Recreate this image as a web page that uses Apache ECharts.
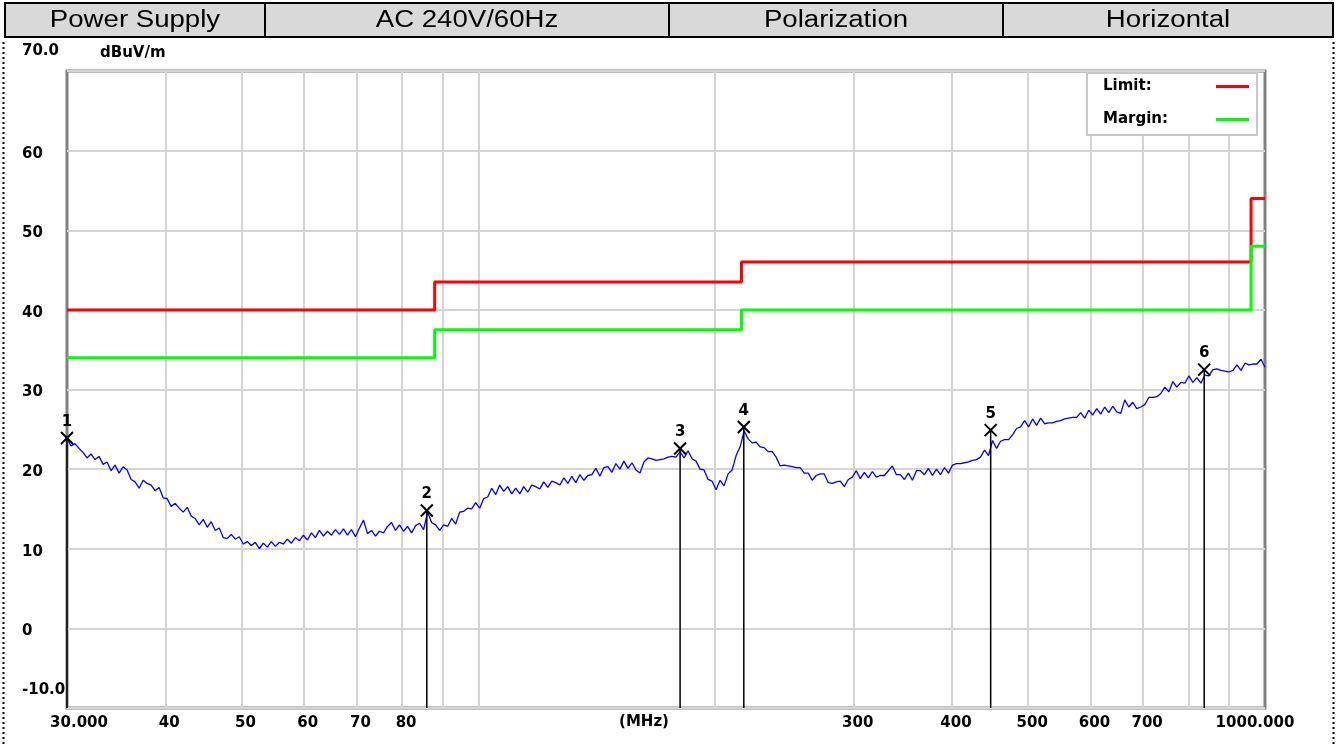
<!DOCTYPE html>
<html>
<head>
<meta charset="utf-8">
<script src="https://cdn.jsdelivr.net/npm/echarts@6/dist/echarts.min.js"></script>
<style>
html,body{margin:0;padding:0;background:#fff;}
#chart{width:1338px;height:745px;}
</style>
</head>
<body>
<div id="chart"></div>
<script>
// ---- header table ----
const headerCells = ['Power Supply', 'AC 240V/60Hz', 'Polarization', 'Horizontal'];

// ---- axes ----
const freqStart = 30;      // MHz
const freqStop = 1000;     // MHz
const yMin = -10, yMax = 70, yStep = 10;
const gridFreqs = [40, 50, 60, 70, 80, 90, 100, 200, 300, 400, 500, 600, 700, 800, 900];
const labelFreqs = [30, 40, 50, 60, 70, 80, 300, 400, 500, 600, 700, 1000];
const labelText = {30: '30.000', 1000: '1000.000'};

// ---- limit / margin (step lines) ----
const limitEdges = [30, 88, 216, 960, 1000];
const limitLevels = [40, 43.5, 46, 54];
const marginLevels = [34, 37.5, 40, 48];

// ---- markers ----
const markerFreqs = [30, 86, 180.5, 217.5, 448, 837];
const markerLevels = [23.9, 14.8, 22.6, 25.3, 24.9, 32.5];

// ---- measured trace (sweep points equally spaced in log frequency) ----
const traceLevels = [
23.9,22.9,23.2,22.6,22.1,21.4,21.9,21.2,21.6,20.6,
20.9,19.8,20.5,19.5,20.3,19.9,18.7,18.4,17.6,18.6,
18.2,18.0,17.3,17.7,16.4,16.3,15.3,15.7,15.1,14.6,
15.2,14.1,13.8,13.0,13.7,12.7,13.4,12.3,12.6,11.4,
11.3,11.8,11.2,11.5,10.6,10.9,10.4,10.8,10.0,10.7,
10.2,10.9,10.3,10.8,10.6,11.2,10.7,11.4,11.0,11.7,
11.1,12.0,11.4,12.3,11.6,12.2,11.7,12.4,11.8,12.5,
11.7,12.4,11.5,12.6,13.6,11.9,12.3,11.6,12.2,12.0,
12.8,13.3,12.3,13.0,12.2,12.8,12.0,12.9,13.2,12.4,
14.6,13.3,13.0,12.3,13.0,12.8,13.8,13.1,14.6,14.7,
15.1,15.0,15.8,15.1,16.3,16.5,17.6,16.8,18.0,17.2,
17.8,16.9,17.6,16.9,17.8,17.1,18.0,17.8,17.5,18.4,
17.7,18.5,18.3,18.0,18.9,18.2,19.1,18.3,19.3,18.6,
19.2,19.3,20.1,19.1,20.2,20.3,19.6,20.7,20.0,21.0,
20.1,20.8,19.9,19.5,20.9,21.4,21.3,21.1,21.2,21.3,
21.5,21.6,21.5,22.2,21.4,22.3,21.3,21.0,20.0,19.9,
18.7,18.5,17.4,18.6,17.9,19.4,19.9,21.7,22.8,24.8,
23.8,23.3,23.4,22.8,22.7,22.2,22.2,21.5,20.4,20.5,
20.4,20.3,20.2,20.2,19.5,19.5,18.6,19.2,19.4,19.4,
18.3,18.2,18.4,18.5,17.8,18.7,19.0,19.8,18.8,19.6,
18.9,19.7,19.0,19.2,19.2,19.8,20.4,19.3,19.3,18.7,
19.5,18.6,19.8,19.8,19.3,20.1,19.2,20.0,19.3,20.2,
19.5,20.5,20.7,20.7,20.8,20.9,21.1,21.2,21.5,22.4,
21.7,23.6,22.6,23.5,23.7,23.7,24.3,25.1,25.3,26.1,
25.3,26.3,25.5,26.4,25.7,25.8,25.8,26.0,26.1,26.3,
26.4,26.5,26.5,27.1,26.4,27.4,26.8,27.6,26.9,27.8,
27.1,27.9,27.2,27.0,28.7,27.8,28.4,27.6,27.8,28.1,
29.0,29.0,29.1,29.5,30.3,29.7,31.0,30.3,30.9,30.8,
31.7,30.9,31.5,30.8,31.8,31.7,32.5,32.6,32.4,32.3,
32.2,32.4,33.1,32.4,33.3,33.1,33.2,33.2,33.8,32.8
];

const L = v => Math.log10(v);
const n = traceLevels.length;
const traceData = traceLevels.map((v, i) => [L(freqStart) + (L(freqStop) - L(freqStart)) * i / (n - 1), v]);

function stepData(edges, levels) {
  const d = [];
  for (let i = 0; i < levels.length; i++) {
    d.push([L(edges[i]), levels[i]]);
    d.push([L(edges[i + 1]), levels[i]]);
  }
  return d;
}

const markerData = markerFreqs.map((f, i) => [L(f), markerLevels[i], i + 1]);

const FONT = 'DejaVu Sans';
const chart = echarts.init(document.getElementById('chart'), null, {renderer: 'canvas'});

// header graphics
const cellEdges = [5, 265, 669, 1003, 1333];
const headerGraphics = [{
  type: 'rect', shape: {x: 5, y: 3, width: 1328, height: 34},
  style: {fill: '#d9d9d9', stroke: '#000', lineWidth: 2}, silent: true
}];
for (let i = 1; i < cellEdges.length - 1; i++) {
  headerGraphics.push({type: 'line', shape: {x1: cellEdges[i], y1: 3, x2: cellEdges[i], y2: 37},
    style: {stroke: '#000', lineWidth: 2}, silent: true});
}
headerCells.forEach((t, i) => {
  headerGraphics.push({
    type: 'text', x: (cellEdges[i] + cellEdges[i + 1]) / 2, y: 21, scaleX: 1.2,
    style: {text: t, fill: '#000', font: '23px "Liberation Sans", Arial', align: 'center', verticalAlign: 'middle'},
    silent: true
  });
});

const lbl = {fontFamily: FONT, fontWeight: 'bold', fontSize: 15, color: '#000'};

const option = {
  animation: false,
  backgroundColor: '#fff',
  grid: {left: 67, right: 73, top: 71, bottom: 37, show: true, backgroundColor: '#fff',
         borderColor: '#808080', borderWidth: 3, containLabel: false, outerBoundsMode: 'none'},
  xAxis: {
    type: 'value', min: L(freqStart), max: L(freqStop),
    name: '(MHz)', nameLocation: 'middle', nameGap: 7, nameMoveOverlap: false,
    nameTextStyle: Object.assign({}, lbl, {padding: [0, 44, 0, 0]}),
    axisLine: {show: false},
    axisTick: {show: false, customValues: gridFreqs.map(L)},
    splitLine: {show: true, lineStyle: {color: '#d4d4d4', width: 2}},
    axisLabel: {
      customValues: labelFreqs.map(L), margin: 8,
      fontFamily: FONT, fontWeight: 'bold', fontSize: 15, color: '#000',
      formatter: v => {
        const f = Math.round(Math.pow(10, v));
        if (f === 30) return '{l|30.000}';
        if (f === 1000) return '{r|1000.000}';
        return '{n|' + (labelText[f] || String(f)) + '}';
      },
      rich: {
        l: Object.assign({}, lbl, {padding: [0, 0, 0, 24]}),
        r: Object.assign({}, lbl, {padding: [0, 20, 0, 0]}),
        n: Object.assign({}, lbl, {padding: [0, 0, 0, 8]})
      }
    }
  },
  yAxis: {
    type: 'value', min: yMin, max: yMax, interval: yStep,
    axisLine: {show: false}, axisTick: {show: false},
    splitLine: {show: true, lineStyle: {color: '#d4d4d4', width: 2}},
    axisLabel: {
      align: 'left', margin: 45,
      fontFamily: FONT, fontWeight: 'bold', fontSize: 15, color: '#000',
      formatter: v => {
        if (v === yMax) return '{t|' + v.toFixed(1) + '}';
        if (v === yMin) return '{b|' + v.toFixed(1) + '}';
        return '{m|' + v + '}';
      },
      rich: {
        t: Object.assign({}, lbl, {padding: [0, 0, 40, 0]}),
        b: Object.assign({}, lbl, {padding: [0, 0, 36, 0]}),
        m: Object.assign({}, lbl, {padding: [6, 0, 0, 0]})
      }
    }
  },
  legend: {
    right: 81, top: 73, orient: 'vertical', align: 'right',
    backgroundColor: '#fff', borderColor: '#c8c8c8', borderWidth: 2,
    padding: [6, 8, 8, 16], itemGap: 18, itemWidth: 33, itemHeight: 3,
    icon: 'rect',
    data: [{name: 'Limit:'}, {name: 'Margin:'}],
    formatter: name => '{a|' + name + '}',
    textStyle: {rich: {a: {fontFamily: FONT, fontWeight: 'bold', fontSize: 15, color: '#000', width: 108, align: 'left'}}},
    selectedMode: false
  },
  graphic: headerGraphics.concat([
    {type: 'line', shape: {x1: 3.5, y1: 42, x2: 3.5, y2: 745}, style: {stroke: '#000', lineWidth: 2, lineDash: [2, 3]}, silent: true},
    {type: 'line', shape: {x1: 1333.5, y1: 42, x2: 1333.5, y2: 745}, style: {stroke: '#000', lineWidth: 2, lineDash: [2, 3]}, silent: true},
    {type: 'text', x: 100, y: 53, style: {text: 'dBuV/m', fill: '#000', font: 'bold 15px "DejaVu Sans"', verticalAlign: 'middle'}, silent: true}
  ]),
  series: [
    {
      name: 'Trace', type: 'line', data: traceData, showSymbol: false, symbol: 'none',
      lineStyle: {color: '#0000ff', width: 1.3}, z: 3
    },
    {
      name: 'Limit:', type: 'line', data: stepData(limitEdges, limitLevels), showSymbol: false, symbol: 'none',
      color: '#ff0000', lineStyle: {color: '#ff0000', width: 3}, z: 4
    },
    {
      name: 'Margin:', type: 'line', data: stepData(limitEdges, marginLevels), showSymbol: false, symbol: 'none',
      color: '#00ff00', lineStyle: {color: '#00ff00', width: 3}, z: 4
    },
    {
      name: 'Markers', type: 'custom', data: markerData, z: 5,
      renderItem: (params, api) => {
        const p = api.coord([api.value(0), api.value(1)]);
        const base = api.coord([api.value(0), yMin]);
        const s = 6;
        return {
          type: 'group',
          children: [
            {type: 'line', shape: {x1: p[0], y1: p[1], x2: base[0], y2: base[1]}, style: {stroke: '#000', lineWidth: 1.5}},
            {type: 'line', shape: {x1: p[0] - s, y1: p[1] - s, x2: p[0] + s, y2: p[1] + s}, style: {stroke: '#000', lineWidth: 2}},
            {type: 'line', shape: {x1: p[0] - s, y1: p[1] + s, x2: p[0] + s, y2: p[1] - s}, style: {stroke: '#000', lineWidth: 2}},
            {type: 'text', x: p[0], y: p[1] - 16, style: {text: String(api.value(2)), fill: '#000',
              font: 'bold 15px "DejaVu Sans"', align: 'center', verticalAlign: 'middle'}}
          ]
        };
      }
    }
  ]
};
chart.setOption(option);
</script>
</body>
</html>
